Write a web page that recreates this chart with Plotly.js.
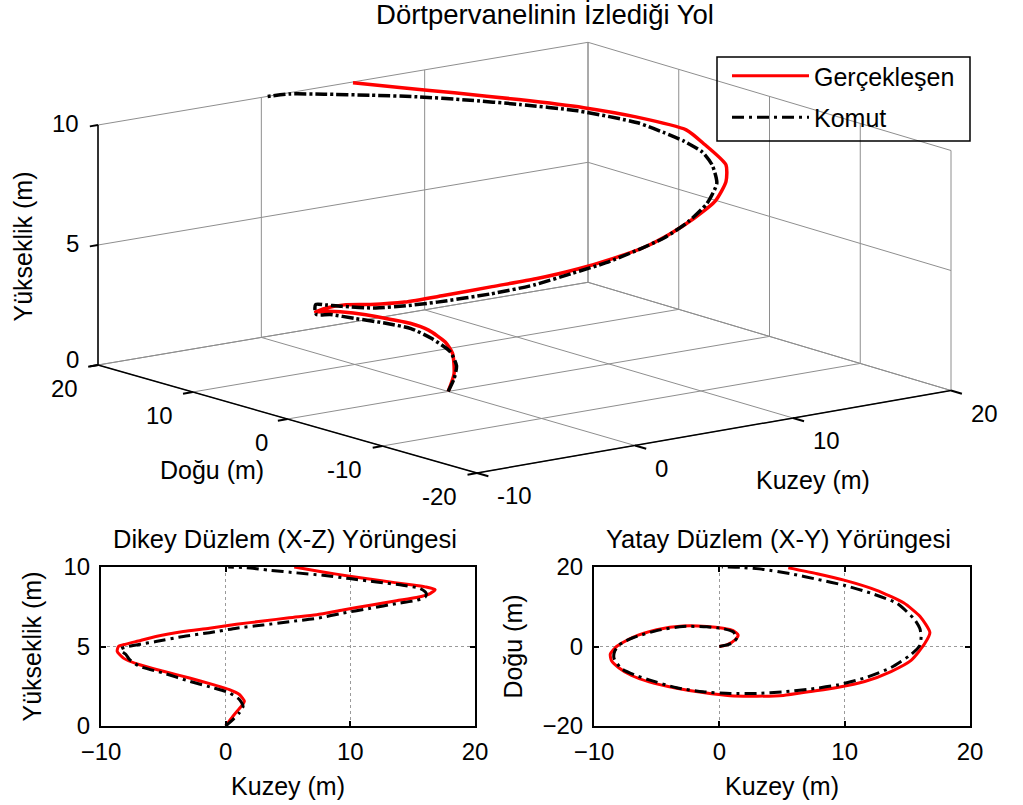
<!DOCTYPE html>
<html><head><meta charset="utf-8">
<script src="https://cdn.plot.ly/plotly-3.0.1.min.js"></script>
<style>html,body{margin:0;padding:0;background:#fff}#chart{width:1023px;height:805px}</style>
</head><body><div id="chart"></div>
<script>
// Komut (command) trajectory
const cmdZ     = [0, 0.42, 0.83, 1.25, 1.67, 2.08, 2.4, 2.81, 3.33, 3.75, 4.17, 4.5, 4.7, 4.85, 5.0, 5.15, 5.31, 5.63, 5.87, 6.15, 6.35, 6.56, 6.77, 7.1, 7.4, 7.7, 7.9, 8.1, 8.3, 8.44, 8.65, 8.85, 9.06, 9.27, 9.48, 9.63, 9.8, 9.96, 10];
const cmdKuzey = [0, 0.6, 1.1, 1.4, 1.1, 0.3, -1.0, -2.9, -5.0, -6.9, -7.7, -8.0, -8.35, -8.4, -7.8, -6.8, -5.6, -3.4, -1.3, 0.86, 3.0, 5.1, 7.3, 9.4, 11.6, 13.7, 15.3, 16.0, 16.1, 16.0, 15.6, 14.2, 12.1, 9.95, 7.8, 5.7, 3.5, 1.7, 0.2];
const cmdDogu  = [0, 0.4, 1.0, 2.2, 3.7, 4.5, 4.95, 5.05, 4.0, 2.2, 1.0, 0.4, -1.2, -3.0, -5.6, -7.1, -8.4, -10.4, -11.4, -11.8, -11.8, -11.4, -10.7, -9.7, -7.9, -5.3, -2.0, 0.3, 2.5, 4.5, 6.7, 10.8, 13.4, 15.4, 16.9, 18.3, 19.4, 19.9, 20.0];
// Gerçekleşen (actual) trajectory
const actZ     = [0, 0.63, 1.25, 1.56, 1.98, 2.29, 2.6, 3.02, 3.44, 3.85, 4.27, 4.69, 5.0, 5.15, 5.35, 5.63, 5.94, 6.15, 6.4, 6.6, 6.81, 7.0, 7.3, 7.6, 7.88, 8.08, 8.33, 8.58, 8.75, 8.9, 9.13, 9.42, 9.69, 10];
const actKuzey = [0, 0.6, 1.26, 1.5, 1.1, 0.3, -1.0, -2.9, -5.0, -6.9, -8.2, -8.7, -8.6, -8.0, -7.0, -5.6, -3.4, -1.3, 0.86, 3.0, 5.1, 7.3, 9.4, 11.6, 13.7, 15.3, 16.4, 16.8, 16.0, 14.7, 12.5, 9.95, 7.8, 5.5];
const actDogu  = [0, 0.4, 1.7, 2.9, 4.0, 4.6, 5.05, 5.15, 4.2, 2.3, 0.0, -1.9, -3.6, -5.4, -7.3, -8.9, -10.5, -11.6, -12.4, -12.5, -12.3, -11.3, -10.3, -8.8, -6.3, -3.5, 0.8, 3.5, 7.6, 11.0, 14.2, 16.7, 18.3, 19.8];

// Axis ticks / ranges
const kuzeyTicks  = [-10, 0, 10, 20];
const doguTicks3d = [-20, -10, 0, 10, 20];
const doguTicks2d = [-20, 0, 20];
const zTicks      = [0, 5, 10];
const kuzeyRange = [-10, 20];
const doguRange  = [-20, 20];
const zRange     = [0, 10];

const FONT = '"Liberation Sans", Arial, sans-serif';
const TXT = {family: FONT, size: 24, color: '#000'};
const LBL = {family: FONT, size: 25, color: '#000'};
const RED = '#ff0000';
const BLK = '#000000';
const GRID = '#8e8e8e';
const DASH2D = '12px,5px,3px,5px';
const DASH3D = '12px,3px,3px,3px';

// ---- 3D view: projection of (Kuzey, Doğu, z) onto the page (pixel space of a hidden cartesian subplot)
// floor corners of the view box (Kuzey min/max x Doğu max/min) and vertical pixel size of one z unit
const VIEW = {L:[98, 365], B:[588, 282.3], F:[477, 473], R:[951, 390.5], zPx:24};
function proj(k, d, z) {
  const s = (k - kuzeyRange[0]) / (kuzeyRange[1] - kuzeyRange[0]);
  const t = (doguRange[1] - d) / (doguRange[1] - doguRange[0]);
  const w = [(1-s)*(1-t), s*(1-t), (1-s)*t, s*t];
  const P = [VIEW.L, VIEW.B, VIEW.F, VIEW.R];
  let x = 0, y = 0;
  for (let i = 0; i < 4; i++) { x += w[i]*P[i][0]; y += w[i]*P[i][1]; }
  return [x, y - VIEW.zPx * (z - zRange[0])];
}
function projSeries(K, D, Z) {
  const xs = [], ys = [];
  for (let i = 0; i < K.length; i++) { const p = proj(K[i], D[i], Z[i]); xs.push(p[0]); ys.push(p[1]); }
  return {x: xs, y: ys};
}
function segs(list) { // list of [[k,d,z],[k,d,z]]
  const xs = [], ys = [];
  list.forEach(sg => { const a = proj(...sg[0]), b = proj(...sg[1]);
    xs.push(a[0], b[0], null); ys.push(a[1], b[1], null); });
  return {x: xs, y: ys};
}
const [k0, k1] = kuzeyRange, [d0, d1] = doguRange, [z0, z1] = zRange;
const gridSegs = [];
kuzeyTicks.forEach(k => { gridSegs.push([[k, d1, z0], [k, d0, z0]]); gridSegs.push([[k, d1, z0], [k, d1, z1]]); });
doguTicks3d.forEach(d => { gridSegs.push([[k0, d, z0], [k1, d, z0]]); gridSegs.push([[k1, d, z0], [k1, d, z1]]); });
zTicks.forEach(z => { gridSegs.push([[k0, d1, z], [k1, d1, z]]); gridSegs.push([[k1, d1, z], [k1, d0, z]]); });
const axisSegs = [
  [[k0, d1, z0], [k0, d1, z1]],
  [[k0, d1, z0], [k0, d0, z0]],
  [[k0, d0, z0], [k1, d0, z0]]
];
const tickSegs = [];
zTicks.forEach(z => tickSegs.push([[k0, d1, z], [k0 - 0.5, d1, z]]));
doguTicks3d.forEach(d => tickSegs.push([[k0, d, z0], [k0 - 0.6, d, z0]]));
kuzeyTicks.forEach(k => tickSegs.push([[k, d0, z0], [k, d0 - 1.2, z0]]));

const G = segs(gridSegs), A = segs(axisSegs), T = segs(tickSegs);
const act3 = projSeries(actKuzey, actDogu, actZ);
const cmd3 = projSeries(cmdKuzey, cmdDogu, cmdZ);

const traces = [
  // 2D X-Z
  {type:'scatter', mode:'lines', name:'Gerçekleşen', x:actKuzey, y:actZ, xaxis:'x', yaxis:'y',
   line:{color:RED, width:3, shape:'spline', smoothing:0.6}, legendgroup:'g1', showlegend:true},
  {type:'scatter', mode:'lines', name:'Komut', x:cmdKuzey, y:cmdZ, xaxis:'x', yaxis:'y',
   line:{color:BLK, width:3, dash:DASH2D, shape:'spline', smoothing:0.6}, legendgroup:'g2', showlegend:true},
  // 2D X-Y
  {type:'scatter', mode:'lines', name:'Gerçekleşen', x:actKuzey, y:actDogu, xaxis:'x2', yaxis:'y2',
   line:{color:RED, width:3, shape:'spline', smoothing:0.6}, legendgroup:'g1', showlegend:false},
  {type:'scatter', mode:'lines', name:'Komut', x:cmdKuzey, y:cmdDogu, xaxis:'x2', yaxis:'y2',
   line:{color:BLK, width:3, dash:DASH2D, shape:'spline', smoothing:0.6}, legendgroup:'g2', showlegend:false},
  // 3D view (projected)
  {type:'scatter', mode:'lines', x:G.x, y:G.y, xaxis:'x3', yaxis:'y3', line:{color:GRID, width:1},
   showlegend:false, hoverinfo:'skip', connectgaps:false},
  {type:'scatter', mode:'lines', x:A.x, y:A.y, xaxis:'x3', yaxis:'y3', line:{color:BLK, width:1.5},
   showlegend:false, hoverinfo:'skip', connectgaps:false},
  {type:'scatter', mode:'lines', x:T.x, y:T.y, xaxis:'x3', yaxis:'y3', line:{color:BLK, width:2},
   showlegend:false, hoverinfo:'skip', connectgaps:false},
  {type:'scatter', mode:'lines', name:'Gerçekleşen', x:act3.x, y:act3.y, xaxis:'x3', yaxis:'y3',
   line:{color:RED, width:3.5, shape:'spline', smoothing:0.6}, legendgroup:'g1', showlegend:false},
  {type:'scatter', mode:'lines', name:'Komut', x:cmd3.x, y:cmd3.y, xaxis:'x3', yaxis:'y3',
   line:{color:BLK, width:3.5, dash:DASH3D, shape:'spline', smoothing:0.6}, legendgroup:'g2', showlegend:false}
];

const ax2 = (domain, range, ticks, anchor, title, standoff, lblStand) => ({
  domain: domain, range: range, tickmode:'array', tickvals: ticks, anchor: anchor,
  showgrid:true, gridcolor:'#9a9a9a', gridwidth:1, griddash:'dot', zeroline:false,
  showline:true, linecolor:'#000', linewidth:2, mirror:'ticks',
  ticks:'inside', ticklen:5, tickwidth:2, tickcolor:'#000', ticklabelstandoff:lblStand,
  tickfont:TXT, automargin:false, fixedrange:true,
  title:{text:title, font:LBL, standoff:standoff}
});

// 3D tick labels and axis labels (annotations on the projected view)
const ann = [];
zTicks.forEach(z => { const p = proj(k0, d1, z);
  ann.push({xref:'x3', yref:'y3', x:p[0], y:p[1], text:String(z), showarrow:false, borderpad:0,
            xanchor:'right', yanchor:'middle', xshift:-18, yshift:(z === zRange[0] ? 6 : 2), font:TXT}); });
doguTicks3d.forEach(d => { const p = proj(k0, d, z0);
  ann.push({xref:'x3', yref:'y3', x:p[0], y:p[1], text:String(d), showarrow:false, borderpad:0,
            xanchor:'right', yanchor:'middle', xshift:-19, yshift:-23, font:TXT}); });
kuzeyTicks.forEach(k => { const p = proj(k, d0, z0);
  ann.push({xref:'x3', yref:'y3', x:p[0], y:p[1], text:String(k), showarrow:false, borderpad:0,
            xanchor:'left', yanchor:'middle', xshift:18.5, yshift:-22.5, font:TXT}); });
ann.push(
  {xref:'paper', yref:'paper', x:285/1023, y:1-539/805, text:'Dikey Düzlem (X-Z) Yörüngesi', showarrow:false,
   xanchor:'center', yanchor:'middle', font:{family:FONT, size:25.5, color:'#000'}},
  {xref:'paper', yref:'paper', x:778/1023, y:1-539/805, text:'Yatay Düzlem (X-Y) Yörüngesi', showarrow:false,
   xanchor:'center', yanchor:'middle', font:{family:FONT, size:25.5, color:'#000'}},
  {xref:'paper', yref:'paper', x:22.5/1023, y:1-247/805, text:'Yükseklik (m)', textangle:-90, showarrow:false,
   xanchor:'center', yanchor:'middle', font:LBL},
  {xref:'paper', yref:'paper', x:212/1023, y:1-470/805, text:'Doğu (m)', showarrow:false,
   xanchor:'center', yanchor:'middle', font:LBL},
  {xref:'paper', yref:'paper', x:813/1023, y:1-480/805, text:'Kuzey (m)', showarrow:false,
   xanchor:'center', yanchor:'middle', font:LBL}
);

const topDom = 0.36;
const layout = {
  width:1023, height:805, margin:{l:0, r:0, t:0, b:0},
  paper_bgcolor:'#fff', plot_bgcolor:'rgba(0,0,0,0)',
  font:{family:FONT, color:'#000'},
  title:{text:'Dörtpervanelinin İzlediği Yol', x:545/1023, xanchor:'center', xref:'paper',
         y:1-14/805, yanchor:'middle', yref:'container', font:{family:FONT, size:27.5, color:'#000'}},
  showlegend:true,
  legend:{x:727/1023, y:1-53/805, xanchor:'left', yanchor:'top', borderwidth:0,
          bgcolor:'rgba(0,0,0,0)', font:LBL, itemwidth:77, traceorder:'grouped', tracegroupgap:6},
  shapes:[{type:'rect', xref:'paper', yref:'paper', x0:717/1023, x1:970/1023, y0:1-141/805, y1:1-57/805,
           line:{color:'#000', width:1.5}, fillcolor:'rgba(0,0,0,0)', layer:'above'}],
  xaxis: ax2([101/1023, 475/1023], kuzeyRange, kuzeyTicks, 'y', 'Kuzey (m)', 14, 3),
  yaxis: ax2([79/805, 238/805], zRange, zTicks, 'x', 'Yükseklik (m)', 15, 4),
  xaxis2: ax2([594/1023, 970/1023], kuzeyRange, kuzeyTicks, 'y2', 'Kuzey (m)', 14, 3),
  yaxis2: ax2([79/805, 238/805], doguRange, doguTicks2d, 'x2', 'Doğu (m)', 13, 4),
  xaxis3: {domain:[0, 1], range:[0, 1023], visible:false, fixedrange:true, anchor:'y3'},
  yaxis3: {domain:[topDom, 1], range:[805*(1-topDom), 0], visible:false, fixedrange:true, anchor:'x3'},
  annotations: ann
};

Plotly.newPlot('chart', traces, layout, {displayModeBar:false, staticPlot:true});
</script></body></html>
